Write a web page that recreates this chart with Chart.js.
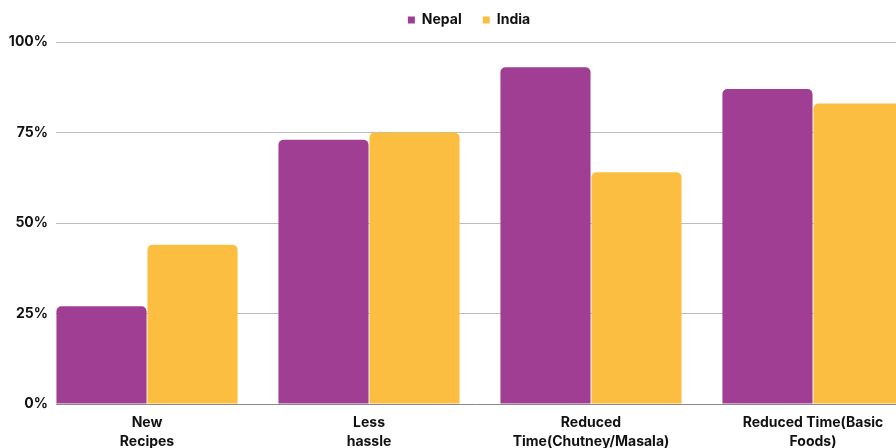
<!DOCTYPE html>
<html>
<head>
<meta charset="utf-8">
<script src="https://cdn.jsdelivr.net/npm/chart.js@4"></script>
<style>
  html,body{margin:0;padding:0;background:#fff;overflow:hidden}
  #wrap{width:896px;height:448px;position:relative}
</style>
</head>
<body>
<div id="wrap"><canvas id="c"></canvas></div>
<script>
const categories = [['New','Recipes'],['Less','hassle'],['Reduced','Time(Chutney/Masala)'],['Reduced Time(Basic','Foods)']];
const nepal = [27, 73, 93, 87];
const india = [44, 75, 64, 83];
const yTicks = [0, 25, 50, 75, 100];

const FONT = 'Inter, "Open Sans", sans-serif';

// legend: fixed height, nudged right/up like the original
const legendFix = {
  id:'legendFix',
  beforeInit(chart){
    const lg = chart.legend;
    const fit = lg.fit, draw = lg.draw;
    lg.fit = function(){ fit.call(lg); lg.height = 42; };
    lg.draw = function(){
      const ctx = chart.ctx;
      ctx.save(); ctx.translate(21, -8); draw.call(lg); ctx.restore();
    };
  }
};

new Chart(document.getElementById('c'), {
  type: 'bar',
  data: {
    datasets: [
      {label:'Nepal', data:nepal.map((v,i)=>({x:i,y:v})), backgroundColor:'#A03E93', borderRadius:{topLeft:5,topRight:5}, borderSkipped:'bottom'},
      {label:'India', data:india.map((v,i)=>({x:i,y:v})), backgroundColor:'#FCBE41', borderRadius:{topLeft:5,topRight:5}, borderSkipped:'bottom'}
    ]
  },
  plugins:[legendFix],
  options: {
    responsive:true, maintainAspectRatio:false, animation:false,
    categoryPercentage:0.82, barPercentage:0.99,
    layout:{padding:0},
    plugins:{
      legend:{position:'top', labels:{boxWidth:7, boxHeight:7, padding:21, color:'#111', font:{family:FONT, size:14, weight:'bold'}}},
      tooltip:{enabled:false}
    },
    scales:{
      x:{type:'linear', min:-0.41, max:3.374, offset:false,
        grid:{display:false},
        border:{display:true, color:'#888', width:1},
        afterDataLimits:s=>{ s.min = -0.41; s.max = 3.374; },
        afterBuildTicks:s=>{ s.ticks = categories.map((c,i)=>({value:i})); },
        afterFit:s=>{ s.height = 44; },
        ticks:{autoSkip:false, maxRotation:0, padding:2, color:'#111', font:{family:FONT, size:14, weight:'bold', lineHeight:1.3},
          callback:v=>categories[v] || ''}
      },
      y:{min:0, max:100,
        afterBuildTicks:s=>{ s.ticks = yTicks.map(v=>({value:v})); },
        afterFit:s=>{ s.width = 56; },
        grid:{color:'#BDBDBD', lineWidth:1, drawTicks:false},
        border:{display:false},
        ticks:{padding:8, color:'#111', font:{family:FONT, size:14, weight:'bold'}, callback:v=>v+'%'}
      }
    }
  }
});
</script>
</body>
</html>
